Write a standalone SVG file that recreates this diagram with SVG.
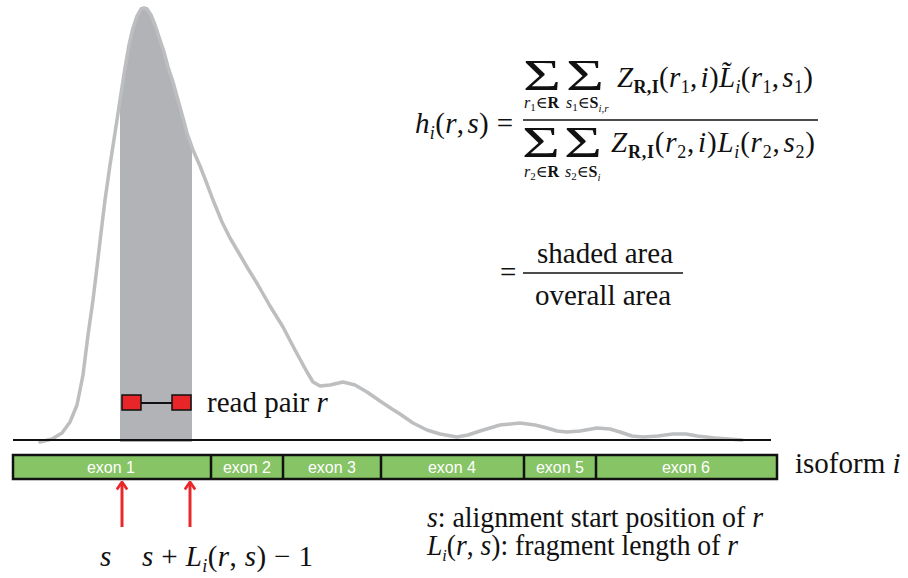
<svg xmlns="http://www.w3.org/2000/svg" width="908" height="578" viewBox="0 0 908 578">
<style>
.t{font-family:'Liberation Serif','Times New Roman',Times,'DejaVu Serif',serif;font-size:29px;fill:#111}
.it{font-style:italic}
.b{font-weight:bold}
.ex{font-family:'Liberation Sans',Arial,sans-serif;font-size:16px;fill:#fff;text-anchor:middle}
.sig{font-family:'Liberation Serif','Times New Roman',Times,'DejaVu Serif',serif;font-size:45px;fill:#111}
.sub{font-family:'Liberation Serif','Times New Roman',Times,'DejaVu Serif',serif;font-size:16px;fill:#111}
.arrow{stroke:#e8282a;stroke-width:3;fill:none}
</style>
<defs>
<clipPath id="shadeClip"><rect x="120" y="0" width="72" height="442"/></clipPath>
<marker id="ah" viewBox="0 0 12 12" refX="10.5" refY="6" markerWidth="12" markerHeight="12" markerUnits="userSpaceOnUse" orient="auto">
<path d="M3,0.8 L10.5,6 L3,11.2" fill="none" stroke="#e8282a" stroke-width="2.8"/>
</marker>
</defs>
<rect width="908" height="578" fill="#fff"/>
<g id="density">
<path clip-path="url(#shadeClip)" fill="#b1b3b6" d="M40,442 L52,439 62,433 70,422 77,405 83,375 88,335 93,300 97,267 101,233 105,200 110,165 115,133 120,100 125,68 129,45 133,28 137,16 141,9 144,8 147,9 151,15 155,25 159,37 164,52 168,67 173,82 178,100 183,118 187,133 193,150 200,166 207,184 213,200 222,222 L222,442 Z"/>
<polyline fill="none" stroke="#bcbec0" stroke-width="3.5" stroke-linejoin="round" stroke-linecap="round" points="40,442 52,439 62,433 70,422 77,405 83,375 88,335 93,300 97,267 101,233 105,200 110,165 115,133 120,100 125,68 129,45 133,28 137,16 141,9 144,8 147,9 151,15 155,25 159,37 164,52 168,67 173,82 178,100 183,118 187,133 193,150 200,166 207,184 213,200 222,222 230,238 240,255 247,267 258,285 270,306 283,327 295,350 307,372 313,382 320,386 330,385 343,382 355,385 367,392 380,401 392,409 400,414 413,423 427,430 440,434 457,437 468,435 480,431 500,425 520,423 535,425 547,428 557,431 567,432 580,431 597,428 610,429 620,432 632,436 643,437 658,436 673,434 686,434 697,436 715,438 742,440"/>
<line x1="13" y1="440" x2="771" y2="440" stroke="#111" stroke-width="2"/>
</g>
<g id="read-pair">
<line x1="141" y1="403" x2="172" y2="403" stroke="#111" stroke-width="2"/>
<rect x="122" y="395" width="19" height="15" fill="#e8262a" stroke="#111" stroke-width="1.5"/>
<rect x="172" y="395" width="19" height="15" fill="#e8262a" stroke="#111" stroke-width="1.5"/>
<text class="t" x="207" y="412">read pair <tspan class="it">r</tspan></text>
</g>
<g id="isoform">
<rect x="13" y="455" width="764" height="24" fill="#86c465" stroke="#111" stroke-width="2.5"/>
<g stroke="#111" stroke-width="2.5">
<line x1="211" y1="455" x2="211" y2="479"/>
<line x1="283" y1="455" x2="283" y2="479"/>
<line x1="381" y1="455" x2="381" y2="479"/>
<line x1="524" y1="455" x2="524" y2="479"/>
<line x1="596" y1="455" x2="596" y2="479"/>
</g>
<text class="ex" x="111" y="473">exon 1</text>
<text class="ex" x="247" y="473">exon 2</text>
<text class="ex" x="332" y="473">exon 3</text>
<text class="ex" x="452" y="473">exon 4</text>
<text class="ex" x="560" y="473">exon 5</text>
<text class="ex" x="686" y="473">exon 6</text>
<text class="t" x="795" y="473">isoform <tspan class="it">i</tspan></text>
</g>
<g id="connectors">
<line class="arrow" x1="122" y1="527" x2="122" y2="482" marker-end="url(#ah)"/>
<line class="arrow" x1="190" y1="527" x2="190" y2="482" marker-end="url(#ah)"/>
</g>
<g id="positions">
<text class="t it" x="100" y="566">s</text>
<text class="t" x="142" y="566" textLength="171" lengthAdjust="spacing"><tspan class="it">s</tspan> + <tspan class="it">L</tspan><tspan class="it" font-size="18" dy="6">i</tspan><tspan dy="-6">(</tspan><tspan class="it">r</tspan>, <tspan class="it">s</tspan>) − 1</text>
</g>
<g id="legend">
<text class="t" x="427" y="527" font-size="28" textLength="336" lengthAdjust="spacingAndGlyphs"><tspan class="it">s</tspan>: alignment start position of <tspan class="it">r</tspan></text>
<text class="t" x="427" y="555" font-size="28" textLength="311" lengthAdjust="spacingAndGlyphs"><tspan class="it">L</tspan><tspan class="it" font-size="17" dy="6">i</tspan><tspan dy="-6">(</tspan><tspan class="it">r</tspan>, <tspan class="it">s</tspan>): fragment length of <tspan class="it">r</tspan></text>
</g>
<g id="formula">
<text class="t" x="415" y="133" font-size="30" textLength="98" lengthAdjust="spacing"><tspan class="it">h</tspan><tspan class="it" font-size="18" dy="6">i</tspan><tspan dy="-6">(</tspan><tspan class="it">r</tspan>,<tspan dx="3" class="it">s</tspan>) =</text>
<line x1="523" y1="120" x2="818" y2="120" stroke="#111" stroke-width="1.5"/>
<text class="sig" x="523" y="90" textLength="38" lengthAdjust="spacingAndGlyphs">Σ</text>
<text class="sig" x="566" y="90" textLength="38" lengthAdjust="spacingAndGlyphs">Σ</text>
<text class="sub" x="524" y="108"><tspan class="it">r</tspan><tspan font-size="11" dy="3">1</tspan><tspan dy="-3">∈</tspan><tspan class="b">R</tspan></text>
<text class="sub" x="566" y="108"><tspan class="it">s</tspan><tspan font-size="11" dy="3">1</tspan><tspan dy="-3">∈</tspan><tspan class="b">S</tspan><tspan class="it" font-size="11" dy="4">i,r</tspan></text>
<text class="t" x="617" y="87" font-size="30" textLength="196" lengthAdjust="spacing"><tspan class="it">Z</tspan><tspan class="b" font-size="18" dy="6">R,I</tspan><tspan dy="-6">(</tspan><tspan class="it">r</tspan><tspan font-size="18" dy="6">1</tspan><tspan dy="-6">,</tspan><tspan dx="3" class="it">i</tspan>)<tspan class="it">L̃</tspan><tspan class="it" font-size="18" dy="6">i</tspan><tspan dy="-6">(</tspan><tspan class="it">r</tspan><tspan font-size="18" dy="6">1</tspan><tspan dy="-6">,</tspan><tspan dx="3" class="it">s</tspan><tspan font-size="18" dy="6">1</tspan><tspan dy="-6">)</tspan></text>
<text class="sig" x="522" y="157" textLength="38" lengthAdjust="spacingAndGlyphs">Σ</text>
<text class="sig" x="564" y="157" textLength="38" lengthAdjust="spacingAndGlyphs">Σ</text>
<text class="sub" x="524" y="177"><tspan class="it">r</tspan><tspan font-size="11" dy="3">2</tspan><tspan dy="-3">∈</tspan><tspan class="b">R</tspan></text>
<text class="sub" x="565" y="177"><tspan class="it">s</tspan><tspan font-size="11" dy="3">2</tspan><tspan dy="-3">∈</tspan><tspan class="b">S</tspan><tspan class="it" font-size="11" dy="4">i</tspan></text>
<text class="t" x="611" y="152" font-size="30" textLength="204" lengthAdjust="spacing"><tspan class="it">Z</tspan><tspan class="b" font-size="18" dy="6">R,I</tspan><tspan dy="-6">(</tspan><tspan class="it">r</tspan><tspan font-size="18" dy="6">2</tspan><tspan dy="-6">,</tspan><tspan dx="3" class="it">i</tspan>)<tspan class="it">L</tspan><tspan class="it" font-size="18" dy="6">i</tspan><tspan dy="-6">(</tspan><tspan class="it">r</tspan><tspan font-size="18" dy="6">2</tspan><tspan dy="-6">,</tspan><tspan dx="3" class="it">s</tspan><tspan font-size="18" dy="6">2</tspan><tspan dy="-6">)</tspan></text>
<text class="t" x="500" y="282">=</text>
<line x1="523" y1="273" x2="683" y2="273" stroke="#111" stroke-width="1.5"/>
<text class="t" x="605" y="263" text-anchor="middle">shaded area</text>
<text class="t" x="603" y="305" text-anchor="middle">overall area</text>
</g>
</svg>
